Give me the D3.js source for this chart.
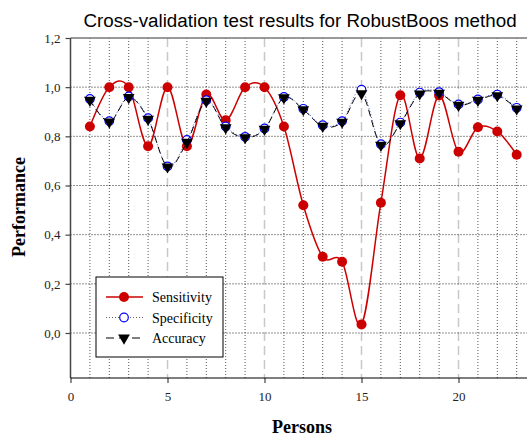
<!DOCTYPE html>
<html>
<head>
<meta charset="utf-8">
<script src="https://cdn.jsdelivr.net/npm/d3@7"></script>
<style>
  body { margin: 0; background: #fff; }
  svg { display: block; }
</style>
</head>
<body>
<div id="chart"></div>
<script>
// Cross-validation results, one value per person
const persons = [1, 2, 3, 4, 5, 6, 7, 8, 9, 10, 11, 12, 13, 14, 15, 16, 17, 18, 19, 20, 21, 22, 23];
const sensitivity = [0.84, 1.0, 1.0, 0.76, 1.0, 0.76, 0.97, 0.865, 1.0, 1.0, 0.84, 0.52, 0.31, 0.29, 0.035, 0.53, 0.967, 0.71, 0.966, 0.737, 0.837, 0.82, 0.725];
const specificity = [0.952, 0.862, 0.962, 0.874, 0.678, 0.785, 0.947, 0.84, 0.798, 0.832, 0.96, 0.912, 0.845, 0.862, 0.99, 0.768, 0.856, 0.978, 0.98, 0.93, 0.95, 0.97, 0.916];
const accuracy = [0.947, 0.859, 0.958, 0.87, 0.676, 0.776, 0.943, 0.835, 0.795, 0.829, 0.957, 0.909, 0.841, 0.858, 0.974, 0.764, 0.852, 0.973, 0.976, 0.927, 0.947, 0.966, 0.912];
const xTicks = [0, 5, 10, 15, 20];
const yTicks = [0, 0.2, 0.4, 0.6, 0.8, 1.0, 1.2];
const yGrid = [0, 0.2, 0.4, 0.6, 0.8, 1.0];
const seriesNames = ['Sensitivity', 'Specificity', 'Accuracy'];

const width = 527, height = 436;
const plotLeft = 70.5, plotTop = 38, plotBottom = 378;

const x = d3.scaleLinear().domain([0, 24]).range([plotLeft, plotLeft + 24 * 19.4]);
const y = d3.scaleLinear().domain([0, 1.2]).range([333, plotTop]);

const svg = d3.select('#chart').append('svg')
    .attr('width', width)
    .attr('height', height);

const serif = '"Liberation Serif", "Times New Roman", serif';

// Vertical grid lines
persons.forEach(p => {
    const major = p % 5 === 0;
    svg.append('line')
        .attr('x1', x(p)).attr('x2', x(p))
        .attr('y1', plotTop).attr('y2', plotBottom)
        .attr('stroke', major ? '#c8c8c8' : '#555')
        .attr('stroke-width', major ? 1.5 : 1)
        .attr('stroke-dasharray', major ? '9,5' : '1,2');
});

// Horizontal grid lines
yGrid.forEach(v => {
    svg.append('line')
        .attr('x1', plotLeft).attr('x2', width)
        .attr('y1', y(v)).attr('y2', y(v))
        .attr('stroke', '#222')
        .attr('stroke-dasharray', '1,2');
});

// Frame: top border, left axis, bottom axis
svg.append('line')
    .attr('x1', plotLeft).attr('x2', width)
    .attr('y1', plotTop).attr('y2', plotTop)
    .attr('stroke', '#777').attr('stroke-width', 1.5);

const yAxis = d3.axisLeft(y).tickValues(yTicks).tickSize(5).tickPadding(5)
    .tickFormat(d => d3.format('.1f')(d).replace('.', ','));
const gy = svg.append('g').attr('transform', `translate(${plotLeft},0)`).call(yAxis);
gy.select('.domain').remove();
gy.append('line')
    .attr('x1', 0).attr('x2', 0).attr('y1', plotTop).attr('y2', plotBottom)
    .attr('stroke', '#444').attr('stroke-width', 1.5);
gy.selectAll('.tick line').attr('stroke', '#444').attr('stroke-width', 1.2);
gy.selectAll('.tick text').attr('font-family', serif).attr('font-size', 13).attr('fill', '#222');

const xAxis = d3.axisBottom(x).tickValues(xTicks).tickSize(5).tickPadding(9);
const gx = svg.append('g').attr('transform', `translate(0,${plotBottom})`).call(xAxis);
gx.select('.domain').remove();
gx.append('line')
    .attr('x1', plotLeft).attr('x2', width).attr('y1', 0).attr('y2', 0)
    .attr('stroke', '#000').attr('stroke-width', 1.2);
gx.selectAll('.tick line').attr('stroke', '#444').attr('stroke-width', 1.2);
gx.selectAll('.tick text').attr('font-family', serif).attr('font-size', 13).attr('fill', '#222');

// Titles
svg.append('text')
    .attr('x', 300).attr('y', 27)
    .attr('text-anchor', 'middle')
    .attr('font-family', '"Liberation Sans", Arial, sans-serif')
    .attr('font-size', 18.8)
    .text('Cross-validation test results for RobustBoos method');

svg.append('text')
    .attr('x', 302).attr('y', 433)
    .attr('text-anchor', 'middle')
    .attr('font-family', serif)
    .attr('font-weight', 'bold')
    .attr('font-size', 18)
    .text('Persons');

svg.append('text')
    .attr('transform', 'translate(25,207) rotate(-90)')
    .attr('text-anchor', 'middle')
    .attr('font-family', serif)
    .attr('font-weight', 'bold')
    .attr('font-size', 18)
    .text('Performance');

// Series
const line = d3.line()
    .x((d, i) => x(persons[i]))
    .y(d => y(d))
    .curve(d3.curveCardinal.tension(0));

const triangle = d3.symbol().type(d3.symbolTriangle).size(60);

const styles = [
    { values: sensitivity, stroke: '#cc0000', width: 1.5, dash: null },
    { values: specificity, stroke: '#5566cc', width: 1, dash: '1,2' },
    { values: accuracy, stroke: '#000', width: 1, dash: '7,4' }
];

function drawMarker(g, i, cx, cy) {
    if (i === 0) {
        g.append('circle').attr('cx', cx).attr('cy', cy).attr('r', 5)
            .attr('fill', '#cc0000');
    } else if (i === 1) {
        g.append('circle').attr('cx', cx).attr('cy', cy).attr('r', 4.3)
            .attr('fill', '#fff').attr('stroke', '#0000ff').attr('stroke-width', 1.2);
    } else {
        g.append('path').attr('d', triangle)
            .attr('transform', `translate(${cx},${cy}) rotate(180)`)
            .attr('fill', '#000');
    }
}

styles.forEach((s, i) => {
    const g = svg.append('g').attr('class', 'series-' + i);
    g.append('path')
        .attr('d', line(s.values))
        .attr('fill', 'none')
        .attr('stroke', s.stroke)
        .attr('stroke-width', s.width)
        .attr('stroke-dasharray', s.dash);
    s.values.forEach((v, j) => drawMarker(g, i, x(persons[j]), y(v)));
});

// Legend
const lg = svg.append('g').attr('transform', 'translate(96,277)');
lg.append('rect')
    .attr('width', 127).attr('height', 80)
    .attr('fill', '#fff').attr('stroke', '#000').attr('stroke-width', 1);
seriesNames.forEach((name, i) => {
    const ly = 20 + i * 20.5;
    const s = styles[i];
    lg.append('line')
        .attr('x1', 10).attr('x2', 47).attr('y1', ly).attr('y2', ly)
        .attr('stroke', i === 1 ? '#666' : s.stroke)
        .attr('stroke-width', s.width)
        .attr('stroke-dasharray', i === 2 ? '8,5' : s.dash);
    drawMarker(lg, i, 28, ly);
    lg.append('text')
        .attr('x', 56).attr('y', ly + 5)
        .attr('font-family', serif)
        .attr('font-size', 14)
        .text(name);
});
</script>
</body>
</html>
